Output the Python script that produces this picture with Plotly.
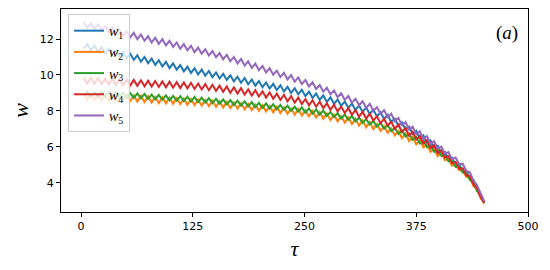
import plotly.graph_objects as go

tau = [3, 7, 11, 15, 19, 23, 27, 31, 35, 39,
       43, 47, 51, 55, 59, 63, 67, 71, 75, 79,
       83, 87, 91, 95, 99, 103, 107, 111, 115, 119,
       123, 127, 131, 135, 139, 143, 147, 151, 155, 159,
       163, 167, 171, 175, 179, 183, 187, 191, 195, 199,
       203, 207, 211, 215, 219, 223, 227, 231, 235, 239,
       243, 247, 251, 255, 259, 263, 267, 271, 275, 279,
       283, 287, 291, 295, 299, 303, 307, 311, 315, 319,
       323, 327, 331, 335, 339, 343, 347, 351, 355, 359,
       363, 367, 371, 375, 379, 383, 387, 391, 395, 399,
       403, 407, 411, 415, 419, 423, 427, 431, 435, 439,
       443, 447, 451]

w1 = [11.47, 11.72, 11.38, 11.63, 11.29, 11.54, 11.20, 11.45, 11.11, 11.36,
      11.02, 11.27, 10.93, 11.18, 10.84, 11.09, 10.74, 11.00, 10.65, 10.91,
      10.56, 10.82, 10.47, 10.73, 10.38, 10.64, 10.29, 10.55, 10.20, 10.46,
      10.11, 10.37, 10.03, 10.30, 9.96, 10.22, 9.88, 10.14, 9.80, 10.06,
      9.72, 9.98, 9.64, 9.90, 9.56, 9.82, 9.48, 9.74, 9.40, 9.66,
      9.32, 9.58, 9.24, 9.50, 9.16, 9.42, 9.08, 9.34, 9.00, 9.26,
      8.92, 9.17, 8.82, 9.07, 8.72, 8.97, 8.61, 8.86, 8.50, 8.75,
      8.39, 8.63, 8.28, 8.52, 8.17, 8.41, 8.05, 8.30, 7.94, 8.19,
      7.83, 8.06, 7.69, 7.92, 7.55, 7.78, 7.38, 7.57, 7.17, 7.36,
      6.96, 7.13, 6.71, 6.88, 6.46, 6.63, 6.19, 6.35, 5.90, 6.05,
      5.65, 5.72, 5.31, 5.39, 4.98, 5.03, 4.66, 4.67, 4.23, 4.15,
      3.62, 3.34, 2.90]

w2 = [8.96, 8.62, 8.95, 8.61, 8.94, 8.60, 8.92, 8.58, 8.91, 8.58,
      8.90, 8.56, 8.88, 8.54, 8.86, 8.52, 8.84, 8.49, 8.81, 8.46,
      8.78, 8.44, 8.76, 8.41, 8.73, 8.39, 8.71, 8.37, 8.68, 8.34,
      8.66, 8.32, 8.63, 8.29, 8.60, 8.26, 8.57, 8.22, 8.54, 8.19,
      8.50, 8.15, 8.46, 8.12, 8.43, 8.08, 8.39, 8.04, 8.35, 8.00,
      8.31, 7.96, 8.27, 7.92, 8.23, 7.88, 8.19, 7.84, 8.14, 7.79,
      8.10, 7.74, 8.04, 7.69, 7.99, 7.63, 7.93, 7.56, 7.86, 7.49,
      7.79, 7.42, 7.71, 7.35, 7.64, 7.27, 7.56, 7.18, 7.47, 7.09,
      7.38, 6.99, 7.26, 6.88, 7.15, 6.78, 7.03, 6.63, 6.88, 6.48,
      6.75, 6.32, 6.56, 6.13, 6.37, 5.97, 6.14, 5.72, 5.89, 5.48,
      5.64, 5.25, 5.33, 4.94, 5.02, 4.69, 4.68, 4.32, 4.26, 3.81,
      3.63, 3.13, 2.85]

w3 = [8.82, 9.07, 8.81, 9.06, 8.80, 9.05, 8.78, 9.04, 8.77, 9.03,
      8.76, 9.01, 8.74, 8.99, 8.72, 8.97, 8.70, 8.94, 8.67, 8.91,
      8.64, 8.89, 8.62, 8.86, 8.59, 8.84, 8.57, 8.82, 8.54, 8.79,
      8.52, 8.77, 8.49, 8.74, 8.46, 8.71, 8.43, 8.67, 8.40, 8.64,
      8.36, 8.60, 8.32, 8.57, 8.29, 8.53, 8.25, 8.49, 8.21, 8.45,
      8.17, 8.41, 8.13, 8.37, 8.09, 8.33, 8.05, 8.29, 8.00, 8.24,
      7.96, 8.19, 7.90, 8.14, 7.85, 8.08, 7.79, 8.01, 7.72, 7.94,
      7.65, 7.87, 7.57, 7.80, 7.50, 7.72, 7.42, 7.63, 7.33, 7.54,
      7.24, 7.44, 7.12, 7.33, 7.01, 7.21, 6.87, 7.06, 6.72, 6.91,
      6.57, 6.73, 6.38, 6.54, 6.19, 6.35, 5.97, 6.10, 5.72, 5.85,
      5.50, 5.55, 5.19, 5.24, 4.88, 4.91, 4.57, 4.54, 4.15, 4.03,
      3.54, 3.30, 2.86]

w4 = [9.85, 9.52, 9.83, 9.51, 9.82, 9.49, 9.80, 9.47, 9.78, 9.45,
      9.76, 9.43, 9.74, 9.41, 9.72, 9.39, 9.70, 9.37, 9.68, 9.35,
      9.66, 9.33, 9.64, 9.31, 9.62, 9.29, 9.60, 9.27, 9.58, 9.25,
      9.56, 9.22, 9.52, 9.19, 9.49, 9.15, 9.45, 9.11, 9.40, 9.06,
      9.36, 9.01, 9.31, 8.96, 9.26, 8.91, 9.20, 8.85, 9.15, 8.80,
      9.09, 8.74, 9.03, 8.67, 8.96, 8.61, 8.89, 8.53, 8.82, 8.46,
      8.74, 8.38, 8.66, 8.31, 8.59, 8.23, 8.51, 8.15, 8.42, 8.06,
      8.34, 7.97, 8.24, 7.88, 8.15, 7.78, 8.05, 7.68, 7.94, 7.57,
      7.84, 7.45, 7.70, 7.31, 7.56, 7.17, 7.40, 6.99, 7.23, 6.82,
      7.05, 6.62, 6.83, 6.40, 6.61, 6.18, 6.37, 5.92, 6.10, 5.65,
      5.80, 5.40, 5.48, 5.08, 5.16, 4.78, 4.80, 4.41, 4.38, 3.90,
      3.70, 3.22, 2.88]

w5 = [12.97, 12.63, 12.89, 12.55, 12.81, 12.47, 12.72, 12.37, 12.63, 12.28,
      12.53, 12.18, 12.43, 12.09, 12.34, 11.99, 12.25, 11.90, 12.16, 11.81,
      12.07, 11.73, 11.99, 11.64, 11.90, 11.56, 11.81, 11.46, 11.72, 11.37,
      11.62, 11.27, 11.52, 11.18, 11.43, 11.08, 11.33, 10.98, 11.22, 10.87,
      11.12, 10.76, 11.00, 10.64, 10.88, 10.52, 10.76, 10.39, 10.63, 10.26,
      10.50, 10.14, 10.37, 10.01, 10.24, 9.88, 10.12, 9.75, 9.99, 9.62,
      9.86, 9.49, 9.72, 9.36, 9.59, 9.22, 9.44, 9.07, 9.29, 8.92,
      9.14, 8.76, 8.98, 8.61, 8.83, 8.45, 8.68, 8.31, 8.53, 8.16,
      8.39, 8.00, 8.21, 7.83, 8.04, 7.65, 7.84, 7.42, 7.61, 7.19,
      7.38, 6.95, 7.12, 6.69, 6.86, 6.43, 6.59, 6.16, 6.31, 5.89,
      6.01, 5.62, 5.71, 5.31, 5.40, 5.03, 5.05, 4.65, 4.58, 4.12,
      3.86, 3.36, 2.97]

series = [("<i>w</i><sub>1</sub>", w1, "#1f77b4"),
          ("<i>w</i><sub>2</sub>", w2, "#ff7f0e"),
          ("<i>w</i><sub>3</sub>", w3, "#2ca02c"),
          ("<i>w</i><sub>4</sub>", w4, "#d62728"),
          ("<i>w</i><sub>5</sub>", w5, "#9467bd")]

x_ticks = [0, 125, 250, 375, 500]
y_ticks = [4, 6, 8, 10, 12]

fig = go.Figure()
for label, vals, color in series:
    fig.add_trace(go.Scatter(x=tau, y=vals, mode="lines", name=label,
                             line=dict(color=color, width=2)))

axis_common = dict(showline=True, linecolor="black", linewidth=1, mirror=True,
                   ticks="outside", ticklen=4, tickwidth=1, tickcolor="black",
                   showgrid=False, zeroline=False, automargin=False,
                   tickfont=dict(family="DejaVu Sans", size=11, color="black"))

fig.update_layout(
    width=534, height=254,
    margin=dict(l=53, r=14, t=1, b=50, autoexpand=False),
    paper_bgcolor="white", plot_bgcolor="white",
    showlegend=True,
    legend=dict(x=0.015, y=0.975, xanchor="left", yanchor="top",
                bgcolor="rgba(255,255,255,0.8)", bordercolor="#cccccc", borderwidth=1,
                font=dict(family="Liberation Serif", size=14, color="black"),
                tracegroupgap=0),
    xaxis=dict(range=[-22.4, 500], tickvals=x_ticks,
               title=dict(text="<i>τ</i>", font=dict(family="Liberation Serif", size=22, color="black"), standoff=8),
               **axis_common),
    yaxis=dict(range=[2.37, 13.67], tickvals=y_ticks,
               title=dict(text="<i>w</i>", font=dict(family="Liberation Serif", size=22, color="black"), standoff=10),
               **axis_common),
    annotations=[dict(text="(<i>a</i>)", x=0.955, y=0.88, xref="paper", yref="paper",
                      xanchor="center", yanchor="middle", showarrow=False,
                      font=dict(family="Liberation Serif", size=19, color="black"))],
)

fig.write_html("out.html")
